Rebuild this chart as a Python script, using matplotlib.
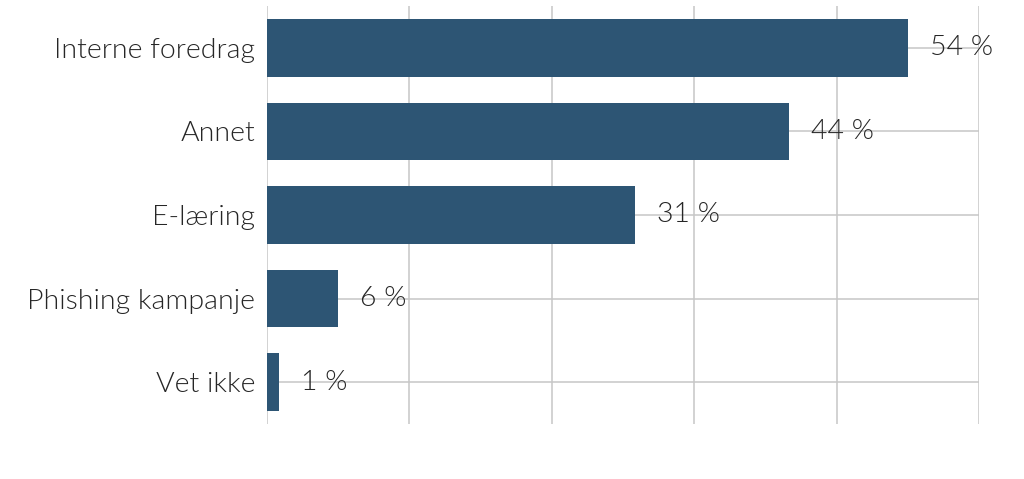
import matplotlib
matplotlib.use("Agg")
import matplotlib.pyplot as plt
from matplotlib import font_manager

categories = ["Interne foredrag", "Annet", "E-læring", "Phishing kampanje", "Vet ikke"]
values = [54, 44, 31, 6, 1]
xticks = [0, 12, 24, 36, 48, 60]

names = {f.name for f in font_manager.fontManager.ttflist}
fam = "Lato" if "Lato" in names else "Open Sans"
plt.rcParams['font.family'] = [fam, 'DejaVu Sans']

bar_color = "#2D5574"
grid_color = "#C6C6C6"
text_color = "#262626"
fs = 20.5
fw = 300

fig = plt.figure(figsize=(10.24, 4.79), dpi=100)
ax = fig.add_axes([267/1024, 1-424/479, (979-267)/1024, (424-6)/479])

y = list(range(len(categories)))
ax.barh(y, values, height=0.69, color=bar_color, zorder=3)
ax.set_ylim(len(categories)-0.5, -0.5)
ax.set_xlim(0, 60)
ax.set_xticks(xticks)
ax.set_yticks(y)
ax.set_yticklabels(categories, fontsize=fs, color=text_color, fontweight=fw)
ax.tick_params(axis='y', length=0, pad=8.6)
ax.tick_params(axis='x', length=0, labelbottom=False)
for s in ax.spines.values():
    s.set_visible(False)
ax.grid(True, axis='both', color=grid_color, linewidth=1.1, zorder=0)
ax.set_axisbelow(True)

for yi, v in zip(y, values):
    ax.annotate(f"{v} %", (v, yi), xytext=(22, 0), textcoords='offset pixels',
                va='center', ha='left', fontsize=fs, color=text_color, fontweight=fw, zorder=4)

fig.savefig("out.png", dpi=100, facecolor='white')
